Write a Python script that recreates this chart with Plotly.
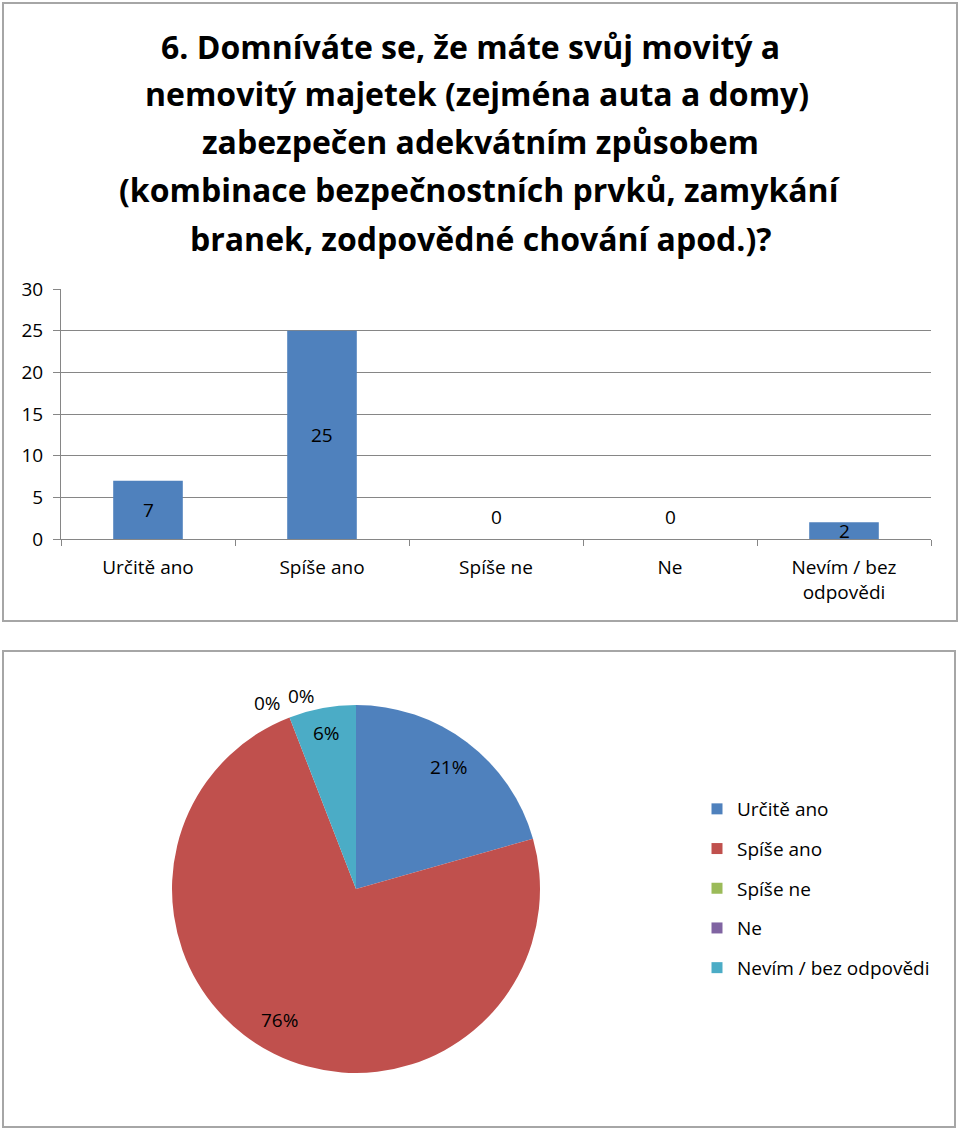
import math
import plotly.graph_objects as go

# ---- data ----
categories = ["Určitě ano", "Spíše ano", "Spíše ne", "Ne", "Nevím / bez odpovědi"]
tick_labels = ["Určitě ano", "Spíše ano", "Spíše ne", "Ne", "Nevím / bez<br>odpovědi"]
counts = [7, 25, 0, 0, 2]
pie_labels = ["21%", "76%", "0%", "0%", "6%"]
colors = ["#4F81BD", "#C0504D", "#9BBB59", "#8064A2", "#4BACC6"]
title_lines = [
    "6. Domníváte se, že máte svůj movitý a",
    "nemovitý majetek (zejména auta a domy)",
    "zabezpečen adekvátním způsobem",
    "(kombinace bezpečnostních prvků, zamykání",
    "branek, zodpovědné chování apod.)?",
]

W, H = 960, 1129
FONT = "Open Sans"


def px(x):
    return x / W


def py(y):
    return 1 - y / H


fig = go.Figure()

# bar chart
fig.add_trace(go.Bar(
    x=categories, y=counts, marker=dict(color=colors[0], line=dict(width=0)),
    showlegend=False, hoverinfo="skip", xaxis="x", yaxis="y",
))

# bar value labels (centered on bar; zero values lifted above axis)
for c, v in zip(categories, counts):
    fig.add_annotation(
        x=c, y=v / 2, xref="x", yref="y", text=str(v), showarrow=False,
        xanchor="center", yanchor="middle",
        yshift=22 if v == 0 else 0,
        font=dict(family=FONT, size=19, color="#000000"),
    )

# pie chart
pie_cx, pie_cy, pie_r = 356, 889, 184
fig.add_trace(go.Pie(
    labels=categories, values=counts, sort=False, direction="clockwise",
    rotation=0, marker=dict(colors=colors, line=dict(width=0)),
    textinfo="none", hoverinfo="skip", showlegend=False,
    domain=dict(x=[px(pie_cx - pie_r), px(pie_cx + pie_r)],
                y=[py(pie_cy + pie_r), py(pie_cy - pie_r)]),
))

# pie labels placed at slice mid-angles
total = sum(counts)
label_radius = [0.83, 0.83, 1.1, 1.1, 0.86]
label_offsets = [(0, 0), (-8, 6), (-15, -3), (19, 4), (0, 0)]
cum = 0.0
for i, v in enumerate(counts):
    mid = (cum + v / 2) / total * 2 * math.pi
    cum += v
    f = label_radius[i]
    lx = pie_cx + pie_r * f * math.sin(mid) + label_offsets[i][0]
    ly = pie_cy - pie_r * f * math.cos(mid) - label_offsets[i][1]
    fig.add_annotation(
        x=px(lx), y=py(ly), xref="paper", yref="paper", text=pie_labels[i],
        xanchor="center", yanchor="middle",
        showarrow=False, font=dict(family=FONT, size=19, color="#000000"),
    )

# legend entries (dummy traces, one group each for spacing)
for c, col in zip(categories, colors):
    fig.add_trace(go.Scatter(
        x=[None], y=[None], mode="markers", name=c, legendgroup=c,
        marker=dict(symbol="square", size=11, color=col),
        xaxis="x", yaxis="y",
    ))

# title lines
title_xshift = [-10, -3, 0, 0, 0]
for i, t in enumerate(title_lines):
    fig.add_annotation(
        x=0.5, y=py(46 + i * 48), xref="paper", yref="paper", text="<b>%s</b>" % t,
        xanchor="center", yanchor="middle", xshift=title_xshift[i],
        showarrow=False, font=dict(family=FONT, size=32, color="#000000"),
    )

# chart boxes
for (x0, y0, x1, y1) in [(3, 3, 957, 621), (3, 651, 955, 1127)]:
    fig.add_shape(type="rect", xref="paper", yref="paper",
                  x0=px(x0), x1=px(x1), y0=py(y1), y1=py(y0),
                  line=dict(color="#A6A6A6", width=2), fillcolor="rgba(0,0,0,0)")

fig.update_layout(
    width=W, height=H, margin=dict(l=0, r=0, t=0, b=0, autoexpand=False),
    paper_bgcolor="white", plot_bgcolor="white",
    font=dict(family=FONT, size=19, color="#000000"),
    bargap=0.6,
    xaxis=dict(domain=[px(61), px(931)], type="category", showline=True,
               linecolor="#868686", linewidth=1, ticks="outside", ticklen=6,
               tickcolor="#868686", tickson="boundaries", showgrid=False,
               tickvals=categories, ticktext=tick_labels, automargin=False,
               ticklabelstandoff=11,
               tickfont=dict(family=FONT, size=19), anchor="y"),
    yaxis=dict(domain=[py(539), py(289)], range=[0, 30], dtick=5,
               showline=True, linecolor="#868686", linewidth=1,
               ticks="outside", ticklen=7, tickcolor="#868686", automargin=False,
               showgrid=True, gridcolor="#868686", gridwidth=1, zeroline=False,
               ticklabelstandoff=6,
               tickfont=dict(family=FONT, size=19), anchor="x"),
    legend=dict(x=px(697), y=py(790), xanchor="left", yanchor="top",
                font=dict(family=FONT, size=19), tracegroupgap=12,
                bgcolor="rgba(0,0,0,0)"),
)

fig.write_html("out.html")
